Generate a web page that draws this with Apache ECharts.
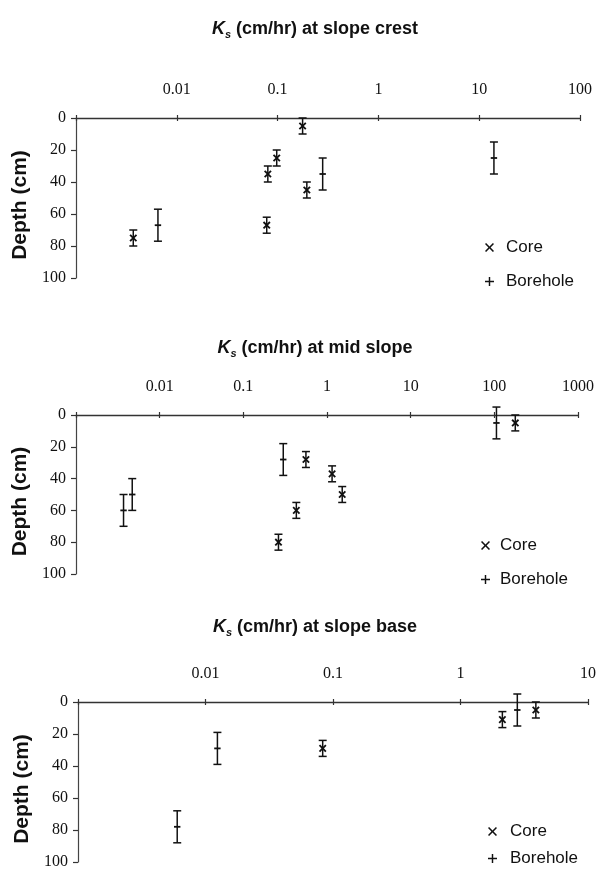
<!DOCTYPE html>
<html><head><meta charset="utf-8">
<script src="https://cdn.jsdelivr.net/npm/echarts@6/dist/echarts.min.js"></script>
<style>html,body{margin:0;padding:0;background:#fff}#c{width:603px;height:871px}</style>
</head><body><div id="c"></div>
<script>
// Ks (cm/hr), depth (cm), half error bar (cm)
const crestCoreKs = [0.177, 0.098, 0.08, 0.195, 0.078, 0.0037];
const crestCoreDepth = [5, 25, 35, 45, 67, 75];
const crestCoreErr = [5, 5, 5, 5, 5, 5];
const crestBoreKs = [0.0065, 0.28, 14];
const crestBoreDepth = [67, 35, 25];
const crestBoreErr = [10, 10, 10];

const midCoreKs = [0.56, 0.43, 0.263, 1.15, 1.52, 178];
const midCoreDepth = [28, 60, 80, 37, 50, 5];
const midCoreErr = [5, 5, 5, 5, 5, 5];
const midBoreKs = [0.0037, 0.0047, 0.30, 106];
const midBoreDepth = [60, 50, 28, 5];
const midBoreErr = [10, 10, 10, 10];

const baseCoreKs = [0.083, 2.13, 3.9];
const baseCoreDepth = [29, 11, 5];
const baseCoreErr = [5, 5, 5];
const baseBoreKs = [0.006, 0.0124, 2.79];
const baseBoreDepth = [78, 29, 5];
const baseBoreErr = [10, 10, 10];

const crestTicks = ['', '0.01', '0.1', '1', '10', '100'];
const midTicks = ['', '0.01', '0.1', '1', '10', '100', '1000'];
const baseTicks = ['', '0.01', '0.1', '1', '10'];
const depthMin = 0, depthMax = 100, depthStep = 20;

const panelTitles = ['at slope crest', 'at mid slope', 'at slope base'];

function rows(ks, dep, err) { return ks.map((k, i) => [k, dep[i], err[i]]); }

const panels = [
  { ticks: crestTicks, min: 0.001, max: 100, core: rows(crestCoreKs, crestCoreDepth, crestCoreErr), bore: rows(crestBoreKs, crestBoreDepth, crestBoreErr),
    grid: { left: 76, right: 23, top: 118, height: 160 }, titleTop: 19, legend: { left: 485, top: 239, gap: 17, tgap: 12 } },
  { ticks: midTicks, min: 0.001, max: 1000, core: rows(midCoreKs, midCoreDepth, midCoreErr), bore: rows(midBoreKs, midBoreDepth, midBoreErr),
    grid: { left: 76, right: 25, top: 415, height: 159 }, titleTop: 338, legend: { left: 481, top: 537, gap: 17, tgap: 10 } },
  { ticks: baseTicks, min: 0.001, max: 10, core: rows(baseCoreKs, baseCoreDepth, baseCoreErr), bore: rows(baseBoreKs, baseBoreDepth, baseBoreErr),
    grid: { left: 78, right: 15, top: 702, height: 160 }, titleTop: 617, legend: { left: 488, top: 823, gap: 10, tgap: 13 } }
];

const INK = '#111';
const xIcon = 'path://M0,1.2 L1.2,0 L5,3.8 L8.8,0 L10,1.2 L6.2,5 L10,8.8 L8.8,10 L5,6.2 L1.2,10 L0,8.8 L3.8,5 Z';
const plusIcon = 'path://M4.2,0 H5.8 V4.2 H10 V5.8 H5.8 V10 H4.2 V5.8 H0 V4.2 H4.2 Z';

function makeRender(kind) {
  return function (params, api) {
    const x = api.value(0), d = api.value(1), e = api.value(2);
    const c = api.coord([x, d]), t = api.coord([x, d - e]), b = api.coord([x, d + e]);
    const cw = 4, m = 3.2;
    const st = { stroke: INK, lineWidth: 1.5, fill: null };
    const ch = [
      { type: 'line', shape: { x1: c[0], y1: t[1], x2: c[0], y2: b[1] }, style: st },
      { type: 'line', shape: { x1: c[0] - cw, y1: t[1], x2: c[0] + cw, y2: t[1] }, style: st },
      { type: 'line', shape: { x1: c[0] - cw, y1: b[1], x2: c[0] + cw, y2: b[1] }, style: st }
    ];
    if (kind === 'core') {
      ch.push({ type: 'line', shape: { x1: c[0] - m, y1: c[1] - m, x2: c[0] + m, y2: c[1] + m }, style: { stroke: INK, lineWidth: 1.8 } });
      ch.push({ type: 'line', shape: { x1: c[0] - m, y1: c[1] + m, x2: c[0] + m, y2: c[1] - m }, style: { stroke: INK, lineWidth: 1.8 } });
    } else {
      ch.push({ type: 'line', shape: { x1: c[0] - m, y1: c[1], x2: c[0] + m, y2: c[1] }, style: { stroke: INK, lineWidth: 1.8 } });
    }
    return { type: 'group', children: ch };
  };
}

const option = { animation: false, backgroundColor: '#fff', title: [], grid: [], xAxis: [], yAxis: [], series: [], legend: [] };

panels.forEach((p, i) => {
  option.title.push({
    text: '{k|K}{s|s}{n| (cm/hr) ' + panelTitles[i] + '}',
    left: 315, top: p.titleTop, textAlign: 'center', padding: 0,
    textStyle: {
      rich: {
        k: { fontFamily: 'Liberation Sans', fontWeight: 'bold', fontStyle: 'italic', fontSize: 18, color: INK },
        s: { fontFamily: 'Liberation Sans', fontWeight: 'bold', fontStyle: 'italic', fontSize: 11, color: INK, padding: [10, 0, 0, 0] },
        n: { fontFamily: 'Liberation Sans', fontWeight: 'bold', fontSize: 18, color: INK }
      }
    }
  });
  option.grid.push(Object.assign({ containLabel: false }, p.grid));
  const ticks = p.ticks;
  option.xAxis.push({
    type: 'log', logBase: 10, gridIndex: i, position: 'top', min: p.min, max: p.max,
    axisLine: { show: true, lineStyle: { color: '#333', width: 1.3 } },
    axisTick: { show: true, inside: false, length: 3, lineStyle: { color: '#333', width: 1.2 } },
    axisLabel: { margin: 20, fontFamily: 'Liberation Serif', fontSize: 16, color: INK, formatter: (v, idx) => ticks[idx] !== undefined ? ticks[idx] : '' },
    splitLine: { show: false }, minorTick: { show: false }
  });
  option.xAxis.push({
    type: 'log', logBase: 10, gridIndex: i, position: 'top', min: p.min, max: p.max,
    axisLine: { show: false },
    axisTick: { show: true, inside: true, length: 3, lineStyle: { color: '#333', width: 1.2 } },
    axisLabel: { show: false }, splitLine: { show: false }
  });
  option.yAxis.push({
    type: 'value', gridIndex: i, inverse: true, min: depthMin, max: depthMax, interval: depthStep,
    name: 'Depth (cm)', nameLocation: 'middle', nameGap: 45, nameRotate: 90,
    nameTextStyle: { fontFamily: 'Liberation Sans', fontWeight: 'bold', fontSize: 21, color: INK, padding: [0, 14, 0, 0] },
    axisLine: { show: true, lineStyle: { color: '#444', width: 1.2 } },
    axisTick: { show: true, inside: false, length: 5, lineStyle: { color: '#333', width: 1.2 } },
    axisLabel: { margin: 10, fontFamily: 'Liberation Serif', fontSize: 16, color: INK },
    splitLine: { show: false }
  });
  option.series.push({
    name: 'Core', type: 'custom', xAxisIndex: 2 * i, yAxisIndex: i, renderItem: makeRender('core'),
    encode: { x: 0, y: 1 }, data: p.core, itemStyle: { color: INK }, clip: false
  });
  option.series.push({
    name: 'Borehole', type: 'custom', xAxisIndex: 2 * i, yAxisIndex: i, renderItem: makeRender('bore'),
    encode: { x: 0, y: 1 }, data: p.bore, itemStyle: { color: INK }, clip: false
  });
  option.legend.push({
    orient: 'vertical', left: p.legend.left, top: p.legend.top, width: 110, height: 80, padding: 0, itemGap: p.legend.gap,
    itemWidth: 9, itemHeight: 9, itemStyle: { color: INK }, selectedMode: false,
    textStyle: { fontFamily: 'Liberation Sans', fontSize: 17, color: INK, padding: [0, 0, 0, p.legend.tgap - 5] },
    data: [{ name: 'Core', icon: xIcon }, { name: 'Borehole', icon: plusIcon }]
  });
});

const chart = echarts.init(document.getElementById('c'), null, { renderer: 'canvas' });
chart.setOption(option);
</script>
</body></html>
